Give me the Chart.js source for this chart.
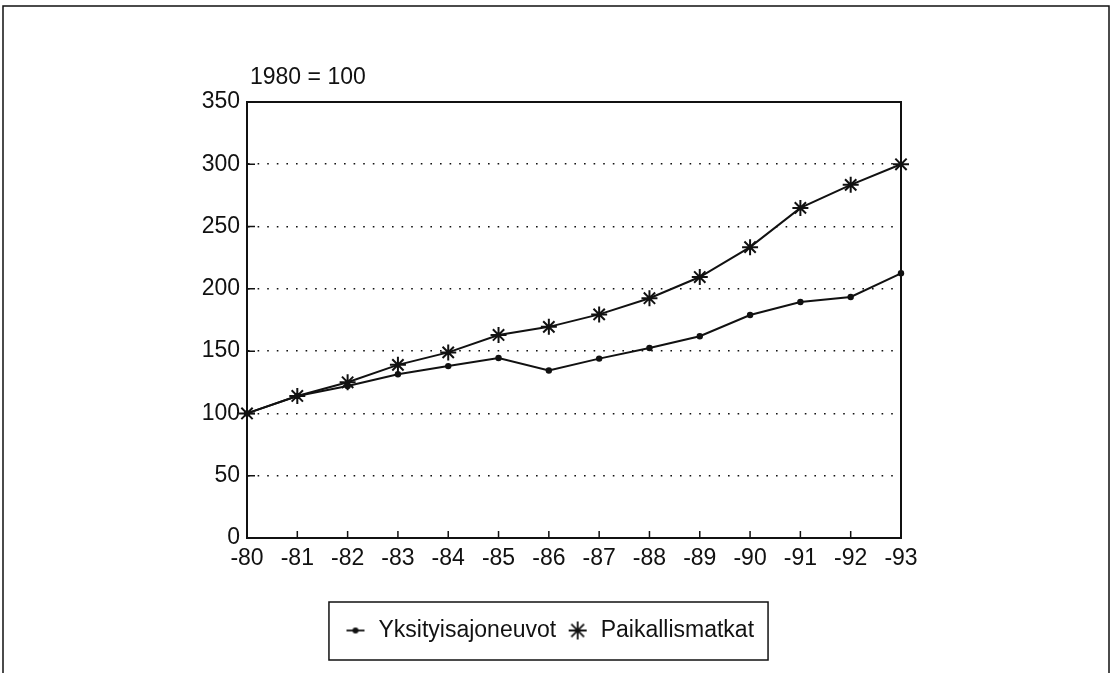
<!DOCTYPE html>
<html>
<head>
<meta charset="utf-8">
<script src="https://cdn.jsdelivr.net/npm/chart.js@4/dist/chart.umd.min.js"></script>
<style>
  html, body { margin: 0; padding: 0; background: #fff; }
  #wrap { width: 1113px; height: 673px; }
</style>
</head>
<body>
<div id="wrap"><canvas id="chart" width="1113" height="673"></canvas></div>
<script>
// Index, 1980 = 100
const years = ['-80', '-81', '-82', '-83', '-84', '-85', '-86', '-87', '-88', '-89', '-90', '-91', '-92', '-93'];
const yksityisajoneuvot = [100, 114, 122, 131.5, 138, 144.5, 134.5, 144, 152.5, 162, 179, 189.5, 193.5, 212.5];
const paikallismatkat = [100, 114, 125, 139, 149, 163, 169.5, 179.5, 192.5, 209.5, 233.5, 265, 283.5, 300];
const seriesNames = ['Yksityisajoneuvot', 'Paikallismatkat'];
const yMin = 0, yMax = 350, yStep = 50;
const baseNote = '1980 = 100';

const FONT = "'Liberation Sans', Arial, Helvetica, sans-serif";
const INK = '#111';

// legend marker: short line with a dot
function lineDotMarker() {
    const c = document.createElement('canvas');
    c.width = 20; c.height = 10;
    const g = c.getContext('2d');
    g.strokeStyle = INK; g.lineWidth = 1.8;
    g.beginPath(); g.moveTo(1, 5); g.lineTo(19, 5); g.stroke();
    g.fillStyle = INK;
    g.beginPath(); g.arc(10, 5, 3, 0, Math.PI * 2); g.fill();
    return c;
}

// legend marker: asterisk
function starMarker() {
    const c = document.createElement('canvas');
    c.width = 22; c.height = 22;
    const g = c.getContext('2d');
    g.strokeStyle = INK; g.lineWidth = 1.8;
    const r = 9;
    g.beginPath();
    for (let k = 0; k < 4; k++) {
        const a = k * Math.PI / 4;
        g.moveTo(11 - r * Math.cos(a), 11 - r * Math.sin(a));
        g.lineTo(11 + r * Math.cos(a), 11 + r * Math.sin(a));
    }
    g.stroke();
    return c;
}

const frame = {
    id: 'frame',
    beforeDraw(chart) {
        const ctx = chart.ctx;
        ctx.save();
        ctx.strokeStyle = INK;
        ctx.lineWidth = 1.5;
        ctx.beginPath();
        ctx.moveTo(3, 673); ctx.lineTo(3, 6); ctx.lineTo(1109, 6); ctx.lineTo(1109, 673);
        ctx.stroke();
        ctx.restore();
    },
    afterDraw(chart) {
        const { ctx, chartArea: a, scales } = chart;
        ctx.save();
        ctx.strokeStyle = INK;
        ctx.lineWidth = 2;
        ctx.strokeRect(a.left, a.top, a.right - a.left, a.bottom - a.top);
        // inward tick marks
        ctx.lineWidth = 1.5;
        ctx.beginPath();
        scales.y.ticks.forEach((t, i) => {
            const y = scales.y.getPixelForTick(i);
            ctx.moveTo(a.left, y); ctx.lineTo(a.left + 8, y);
        });
        scales.x.ticks.forEach((t, i) => {
            const x = scales.x.getPixelForTick(i);
            ctx.moveTo(x, a.bottom); ctx.lineTo(x, a.bottom - 7);
        });
        ctx.stroke();
        // base note
        ctx.fillStyle = INK;
        ctx.font = '23px ' + FONT;
        ctx.textBaseline = 'middle';
        ctx.textAlign = 'left';
        ctx.fillText(baseNote, a.left + 3, a.top - 24);
        // legend box
        const hb = chart.legend.legendHitBoxes;
        if (hb && hb.length) {
            const first = hb[0], last = hb[hb.length - 1];
            const l = first.left - 15, r = last.left + last.width + 14;
            const t = first.top - 17, b = first.top + first.height + 18;
            ctx.lineWidth = 1.5;
            ctx.strokeRect(l, t, r - l, b - t);
        }
        ctx.restore();
    },
};

new Chart(document.getElementById('chart'), {
    type: 'line',
    data: {
        labels: years,
        datasets: [
            {
                label: seriesNames[0],
                data: yksityisajoneuvot,
                borderColor: INK,
                backgroundColor: INK,
                borderWidth: 2,
                pointStyle: 'circle',
                pointRadius: 3.2,
                pointBorderWidth: 0,
                tension: 0,
                clip: false,
            },
            {
                label: seriesNames[1],
                data: paikallismatkat,
                borderColor: INK,
                backgroundColor: INK,
                borderWidth: 2,
                pointStyle: 'star',
                pointRadius: 8,
                pointBorderWidth: 2,
                tension: 0,
                clip: false,
            },
        ],
    },
    options: {
        responsive: false,
        animation: false,
        devicePixelRatio: 1,
        layout: { padding: { left: 197, right: 212, top: 102, bottom: 21 } },
        plugins: {
            tooltip: { enabled: false },
            legend: {
                position: 'bottom',
                labels: {
                    color: INK,
                    font: { family: FONT, size: 23 },
                    usePointStyle: true,
                    padding: 10,
                    generateLabels(chart) {
                        const items = Chart.defaults.plugins.legend.labels.generateLabels(chart);
                        items[0].pointStyle = lineDotMarker();
                        items[1].pointStyle = starMarker();
                        return items;
                    },
                },
            },
        },
        scales: {
            x: {
                grid: { display: false, drawTicks: false },
                border: { color: INK, width: 2 },
                ticks: { color: INK, font: { family: FONT, size: 23 }, padding: 7, maxRotation: 0, autoSkip: false },
                afterFit(s) { s.height = 71; },
            },
            y: {
                min: yMin,
                max: yMax,
                grid: {
                    drawTicks: false,
                    lineWidth: 1.6,
                    color: c => (c.tick.value === yMin || c.tick.value === yMax) ? 'rgba(0,0,0,0)' : INK,
                },
                border: { color: INK, width: 2, dash: [1.6, 8] },
                ticks: { stepSize: yStep, color: INK, font: { family: FONT, size: 23 }, padding: 7 },
                afterFit(s) { s.width = 50; },
            },
        },
    },
    plugins: [frame],
});
</script>
</body>
</html>
